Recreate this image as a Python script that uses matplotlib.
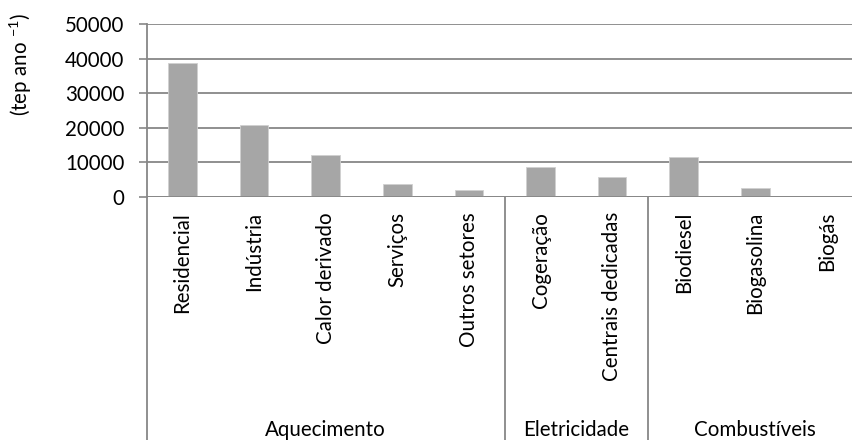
import matplotlib
matplotlib.use("Agg")
import matplotlib.pyplot as plt
from matplotlib.lines import Line2D
import matplotlib.transforms as mtransforms

plt.rcParams['font.family'] = ['Lato', 'DejaVu Sans']
plt.rcParams['mathtext.fontset'] = 'custom'
plt.rcParams['mathtext.rm'] = 'Lato'
plt.rcParams['mathtext.it'] = 'Lato'
plt.rcParams['mathtext.bf'] = 'Lato'

categories = ["Residencial", "Indústria", "Calor derivado", "Serviços", "Outros setores",
              "Cogeração", "Centrais dedicadas", "Biodiesel", "Biogasolina", "Biogás"]
values = [38800, 20700, 12200, 3700, 1900, 8700, 5600, 11400, 2600, 0]
groups = ["Aquecimento", "Eletricidade", "Combustíveis"]
group_sizes = [5, 2, 3]
yticks = [0, 10000, 20000, 30000, 40000, 50000]
ylabel = r"(tep ano $^{-1}$)"

W, H = 852, 440
fig = plt.figure(figsize=(W / 100, H / 100), dpi=100)
left_px, right_px, top_px, bottom_px = 146.7, 862.7, 24.0, 196.7
ax = fig.add_axes([left_px / W, 1 - bottom_px / H, (right_px - left_px) / W, (bottom_px - top_px) / H])

grid_c = "#878787"
bar_c = "#a6a6a6"
fs = 14.8

x = list(range(len(categories)))
ax.bar(x, values, width=0.4, color=bar_c, edgecolor="#d0d0d0", linewidth=0.6, zorder=3)
ax.set_xlim(-0.5, len(categories) - 0.5)
ax.set_ylim(0, 50000)
ax.set_yticks(yticks)
ax.set_yticklabels([str(v) for v in yticks], fontsize=fs)
ax.yaxis.grid(True, color=grid_c, linewidth=1.3, zorder=1)
ax.set_axisbelow(True)
ax.tick_params(axis='y', length=6, width=1.2, color=grid_c, pad=10, direction='out')
ax.set_xticks(x)
ax.set_xticklabels(categories, rotation=90, fontsize=fs, va='top', ha='center')
ax.tick_params(axis='x', length=0, pad=11)
for s in ['top', 'right', 'bottom']:
    ax.spines[s].set_visible(False)
ax.spines['left'].set_color(grid_c)
ax.spines['left'].set_linewidth(1.3)
ax.axhline(0, color=grid_c, linewidth=1.3, zorder=4)

# group separators extending to the bottom of the figure
trans = mtransforms.blended_transform_factory(ax.transData, fig.transFigure)
y0_fig = 1 - bottom_px / H
bounds = [-0.5]
acc = -0.5
for n in group_sizes:
    acc += n
    bounds.append(acc)
for b in bounds[:-1]:
    fig.add_artist(Line2D([b, b], [0, y0_fig], transform=trans, color=grid_c, linewidth=1.3))

# group labels
start = -0.5
for g, n in zip(groups, group_sizes):
    center = start + n / 2
    fig.text(center, 1 - 436 / H, g, transform=trans, ha='center', va='baseline', fontsize=fs)
    start += n

fig.text(21 / W, 1 - 65 / H, ylabel, rotation=90, ha='center', va='center', fontsize=fs)

fig.savefig("out.png", dpi=100)
